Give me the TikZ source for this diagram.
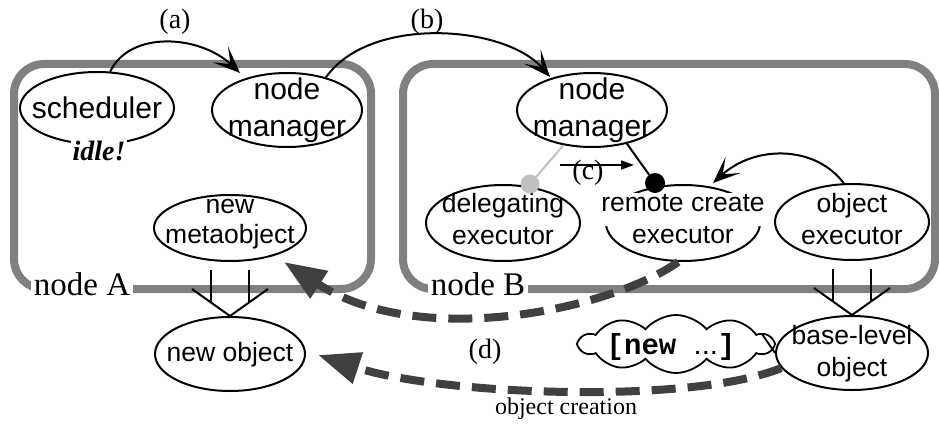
\documentclass[tikz,border=0pt]{standalone}
\usepackage{fontspec}
\setmainfont{Liberation Serif}
\setsansfont{Liberation Sans}
\setmonofont{Liberation Mono}
\usetikzlibrary{arrows.meta,shapes.geometric,shapes.symbols,calc}

\definecolor{boxgray}{HTML}{808080}
\definecolor{dashgray}{HTML}{404040}
\definecolor{dotgray}{HTML}{C0C0C0}

\begin{document}
\begin{tikzpicture}[x=1pt,y=-1pt,
  box/.style={draw=boxgray,line width=8pt,rounded corners=30pt},
  ell/.style={draw,ellipse,line width=2pt,inner sep=0pt},
  txt/.style={font=\fontsize{26.5}{32}\selectfont\sffamily,align=center,inner sep=0pt},
  bigtxt/.style={font=\fontsize{30}{37}\selectfont\sffamily,align=center,inner sep=0pt},
  lbl/.style={font=\fontsize{28}{30}\selectfont\rmfamily,inner sep=0pt},
  boxlbl/.style={font=\fontsize{33}{34}\selectfont\rmfamily,fill=white,inner xsep=3pt,inner ysep=2pt},
  flow/.style={line width=2pt,-{Stealth[length=27pt,width=22pt,inset=14pt,quick]}},
  create/.style={draw=dashgray,line width=8pt,dash pattern=on 24pt off 12pt,
    -{Triangle[length=42pt,width=31pt]}},
  fork/.style={line width=2pt},
  dotnode/.style={circle,inner sep=0pt,minimum size=#1},
]
\useasboundingbox (0,0) rectangle (939,425);

% hosts
\draw[box] (14,64) rectangle (371,289);
\draw[box] (403,64) rectangle (935,289);
\node[boxlbl] (labA) at (82,284.5) {node A};
\node[boxlbl] (labB) at (478,284.5) {node B};

% node A
\node[ell,minimum width=154pt,minimum height=72pt] (sched) at (97,108) {};
\node[bigtxt] at (97,107.5) {scheduler};
\node[font=\fontsize{28}{30}\selectfont\rmfamily\bfseries\itshape,fill=white,inner sep=2pt] (idle) at (99,151) {idle!};
\node[ell,minimum width=150pt,minimum height=74pt] (nmA) at (287,110) {};
\node[bigtxt] at (287,110) {node\\manager};
\node[ell,minimum width=152pt,minimum height=66pt] (meta) at (230,228) {};
\node[txt,font=\fontsize{26.5}{30}\selectfont\sffamily] at (230,224) {new\\metaobject};

% node B
\node[ell,minimum width=150pt,minimum height=74pt] (nmB) at (592,110) {};
\node[bigtxt] at (592,110) {node\\manager};
\node[ell,minimum width=154pt,minimum height=76pt] (deleg) at (503,223) {};
\node[txt] at (503,219.5) {delegating\\executor};
\node[ell,minimum width=154pt,minimum height=76pt] (remote) at (683,223) {};
\fill[white] ($(remote)+(-80,-30)$) rectangle ($(remote)+(80,3)$);
\node[txt] at (683,219.5) {remote create\\executor};
\node[ell,minimum width=154pt,minimum height=76pt] (objex) at (852,222) {};
\node[txt] at (852,219.5) {object\\executor};

% outside
\node[ell,minimum width=150pt,minimum height=74pt] (newobj) at (230,354) {};
\node[txt] at (230,355) {new object};
\node[ell,minimum width=152pt,minimum height=74pt] (base) at (852,353) {};
\node[txt] at (852,354) {base-level\\object};

% message passing
\draw[flow] (sched.70) .. controls (130,30) and (200,35) .. ($(nmA)+(-47,-37)$);
\node[lbl] (la) at (175,22) {(a)};
\draw[flow] (nmA.40) .. controls (370,15) and (505,25) .. ($(nmB)+(-42,-33)$);
\node[lbl] (lb) at (427,22) {(b)};
\draw[flow] (objex.102) .. controls (815,145) and (755,145) .. ($(remote)+(30,-40)$);

% delegation to the executors
\node[dotnode=19pt,fill=dotgray] (gdot) at (530,184) {};
\node[dotnode=20pt,fill=black] (bdot) at (655,183) {};
\draw[dotgray,line width=2pt] (nmB.231) -- (gdot);
\draw[line width=2pt] (nmB.316) -- (bdot);
\coordinate (c1) at (560,165);
\coordinate (c2) at (634,165);
\node[lbl] (lc) at (588,173) {(c)};
\draw[line width=1.5pt,-{Triangle[length=13pt,width=9pt]}] (c1) -- (c2);

% instantiation
\draw[fork] ($(meta.south)+(-19,8)$) -- ($(newobj.north)+(-19,-13)$);
\draw[fork] ($(meta.south)+(19,8)$) -- ($(newobj.north)+(19,-13)$);
\draw[fork] ($(newobj.north)+(-38,-27)$) -- (newobj.north) -- ($(newobj.north)+(38,-27)$);
\draw[fork] ($(objex.south)+(-19,8)$) -- ($(base.north)+(-19,-13)$);
\draw[fork] ($(objex.south)+(19,8)$) -- ($(base.north)+(19,-13)$);
\draw[fork] ($(base.north)+(-38,-27)$) -- (base.north) -- ($(base.north)+(38,-27)$);

% object creation
\coordinate (metaTip) at ($(meta)+(54,34)$);
\coordinate (newTip) at ($(newobj)+(88,1)$);
\draw[create] (remote.263) .. controls (610,310) and (420,350) .. (metaTip);
\draw[create] (base.192) .. controls (690,405) and (440,395) .. (newTip);
\node[lbl] (ld) at (485,352) {(d)};
\node[font=\fontsize{24}{26}\selectfont\rmfamily,inner sep=0pt] (lcreate) at (566,409) {object creation};

% speech cloud
\node[cloud,cloud puffs=10,cloud puff arc=100,cloud ignores aspect,draw,fill=white,
  line width=1.8pt,minimum width=193pt,minimum height=58pt,inner sep=0pt] (cloud) at (676,344) {};
\draw[line width=1.8pt] ($(cloud)+(86,-10)$) -- (base.180);
\node[font=\fontsize{29}{30}\selectfont,inner sep=0pt] (code) at (671,347)
  {{\ttfamily\bfseries[new }{\sffamily...}{\ttfamily\bfseries]}};
\end{tikzpicture}
\end{document}
